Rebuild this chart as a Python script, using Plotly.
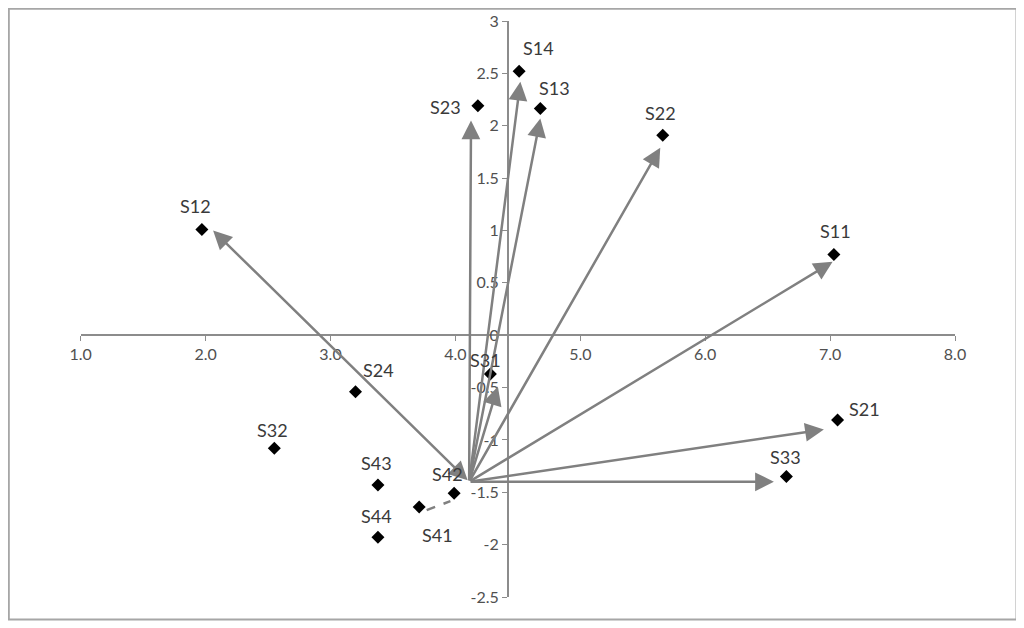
import plotly.graph_objects as go

# ---- data ----
names = ["S11", "S12", "S13", "S14", "S21", "S22", "S23", "S24",
         "S31", "S32", "S33", "S41", "S42", "S43", "S44"]
xs = [7.03, 1.97, 4.68, 4.51, 7.06, 5.66, 4.18, 3.20,
      4.28, 2.55, 6.65, 3.71, 3.99, 3.38, 3.38]
ys = [0.77, 1.01, 2.165, 2.52, -0.81, 1.91, 2.19, -0.54,
      -0.37, -1.08, -1.35, -1.64, -1.51, -1.43, -1.93]
# label offsets from markers (pixels, style only)
label_dx = [2, -6, 14, 19, 27, -2, -32, 23, -5, -2, -1, 18, -7, -1, -1]
label_dy = [24, 23, 20, 23, 11, 22, -1, 22, 14, 18, 20, -28, 19, 22, 21]

# arrows from common origin
origin = (4.11, -1.40)
arrow_names = ["S11", "S12", "S13", "S14", "S21", "S22", "S23", "S31", "S33"]
arrow_x = [7.02, 2.06, 4.68, 4.52, 6.95, 5.64, 4.125, 4.34, 6.55]
arrow_y = [0.70, 1.00, 2.07, 2.42, -0.90, 1.79, 2.05, -0.49, -1.40]
# short dashed arrow S41 -> S42
s41_arrow_x = [3.77, 3.96]
s41_arrow_y = [-1.67, -1.585]

x_ticks = [1, 2, 3, 4, 5, 6, 7, 8]
x_ticktext = ["1.0", "2.0", "3.0", "4.0", "5.0", "6.0", "7.0", "8.0"]
y_ticks = [3, 2.5, 2, 1.5, 1, 0.5, 0, -0.5, -1, -1.5, -2, -2.5]
y_ticktext = ["3", "2.5", "2", "1.5", "1", "0.5", "0", "-0.5", "-1", "-1.5", "-2", "-2.5"]

W, H = 1024, 628
OFF = 8.0  # page body offset of the figure
FONT = "Lato, 'Open Sans', sans-serif"
GRAY = "#808080"
AXIS = "#8c8c8c"

fig = go.Figure()

fig.add_trace(go.Scatter(
    x=xs, y=ys, mode="markers",
    marker=dict(symbol="diamond", size=10, color="black"),
    cliponaxis=False, showlegend=False, hoverinfo="skip"))

# dashed part of S41 arrow
fig.add_trace(go.Scatter(
    x=s41_arrow_x, y=s41_arrow_y, mode="lines",
    line=dict(color=GRAY, width=2.5, dash="dash"),
    showlegend=False, hoverinfo="skip"))

annotations = []
for nm, ex, ey in zip(arrow_names, arrow_x, arrow_y):
    annotations.append(dict(
        x=ex, y=ey, ax=origin[0], ay=origin[1], xref="x", yref="y",
        axref="x", ayref="y", text="", showarrow=True,
        arrowhead=2, arrowsize=1.5, arrowwidth=2.5, arrowcolor=GRAY,
        arrowside="end+start" if nm == "S12" else "end",
        startarrowhead=2, startarrowsize=1.5))
# head of S41 arrow
annotations.append(dict(
    x=s41_arrow_x[1], y=s41_arrow_y[1],
    ax=s41_arrow_x[1] - 0.02, ay=s41_arrow_y[1] - 0.009,
    xref="x", yref="y", axref="x", ayref="y", text="", showarrow=True,
    arrowhead=2, arrowsize=1.5, arrowwidth=2.5, arrowcolor=GRAY))

# point labels
for nm, px, py, dx, dy in zip(names, xs, ys, label_dx, label_dy):
    annotations.append(dict(
        x=px, y=py, xref="x", yref="y", text=nm, showarrow=False,
        xshift=dx, yshift=dy, xanchor="center", yanchor="middle",
        font=dict(family=FONT, size=18, color="#3a3a3a")))

# axis geometry (page pixels, corrected for body offset)
x_left_px, x_right_px = 80.7 - OFF, 955.0 - OFF
y_top_px, y_bot_px = 21.0 - OFF, 597.0 - OFF
yaxis_px = 508.0 - OFF
xaxis_px = 335.0 - OFF

fig.update_layout(
    width=W, height=H,
    margin=dict(l=0, r=0, t=0, b=0, autoexpand=False),
    paper_bgcolor="white", plot_bgcolor="white",
    annotations=annotations,
    xaxis=dict(
        range=[1, 8], domain=[x_left_px / W, x_right_px / W],
        anchor="free", position=1 - xaxis_px / H, automargin=False,
        showgrid=False, zeroline=False, showline=True, linecolor=AXIS, linewidth=2,
        ticks="outside", ticklen=5, tickcolor=AXIS, tickwidth=1,
        tickvals=x_ticks, ticktext=x_ticktext,
        tickfont=dict(family=FONT, size=16, color="#505050")),
    yaxis=dict(
        range=[-2.5, 3], domain=[1 - y_bot_px / H, 1 - y_top_px / H],
        anchor="free", position=yaxis_px / W, automargin=False,
        showgrid=False, zeroline=False, showline=True, linecolor=AXIS, linewidth=2,
        ticks="outside", ticklen=5, tickcolor=AXIS, tickwidth=1,
        tickvals=y_ticks, ticktext=y_ticktext,
        tickfont=dict(family=FONT, size=16, color="#505050")),
    shapes=[dict(type="rect", xref="paper", yref="paper",
                 x0=0.8 / W, x1=(1016.5 - OFF) / W,
                 y0=1 - (619.5 - OFF) / H, y1=1 - 0.8 / H,
                 line=dict(color="#a6a6a6", width=2), fillcolor="rgba(0,0,0,0)",
                 layer="below")],
)

fig.write_html("out.html")
